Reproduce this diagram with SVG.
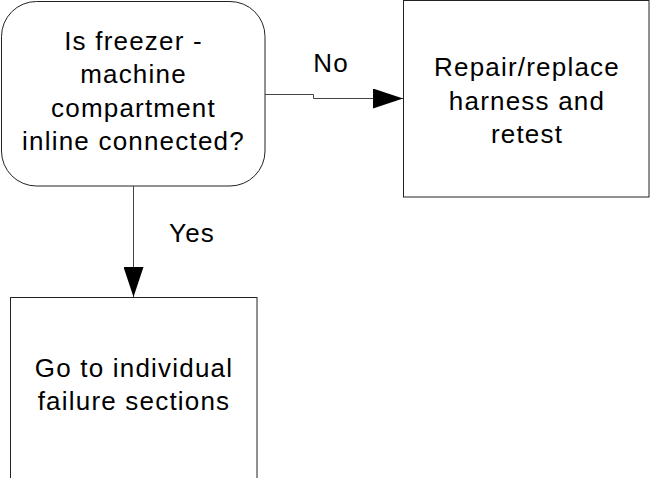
<svg xmlns="http://www.w3.org/2000/svg" width="650" height="478" viewBox="0 0 650 478">
<style>
.node{fill:#fff;stroke:#222;stroke-width:1}
.t{font-family:"Liberation Sans",Arial,sans-serif;font-size:26px;letter-spacing:1.2px;fill:#000;text-anchor:middle}
.c{fill:none;stroke:#444;stroke-width:1}
</style>
<defs>
<marker id="ah" markerUnits="userSpaceOnUse" markerWidth="30" markerHeight="20" refX="30" refY="10" orient="auto">
<path d="M0,0 L30,10 L0,20 Z" fill="#000"/>
</marker>
</defs>
<rect width="650" height="478" fill="#fff"/>
<g id="decision">
<rect class="node" x="1.5" y="1.5" width="263.5" height="184.5" rx="35" ry="35"/>
<text class="t" x="133.5" y="49.5">Is freezer -</text>
<text class="t" x="133.5" y="83">machine</text>
<text class="t" x="133.5" y="116.5">compartment</text>
<text class="t" x="133.5" y="150">inline connected?</text>
</g>
<g id="repair">
<rect class="node" x="403.5" y="0.5" width="245.5" height="196.5"/>
<text class="t" x="527" y="76">Repair/replace</text>
<text class="t" x="527" y="109.5">harness and</text>
<text class="t" x="527" y="143">retest</text>
</g>
<g id="goto">
<rect class="node" x="10.5" y="297.5" width="246.5" height="190"/>
<text class="t" x="134" y="376.7">Go to individual</text>
<text class="t" x="134" y="410">failure sections</text>
</g>
<g id="connectors">
<path class="c" d="M265,94.5 H313.5 V98.5 H403" marker-end="url(#ah)"/>
<path class="c" d="M133.5,186 V297" marker-end="url(#ah)"/>
<text class="t" x="331" y="72.3">No</text>
<text class="t" x="192" y="241.7">Yes</text>
</g>
</svg>
